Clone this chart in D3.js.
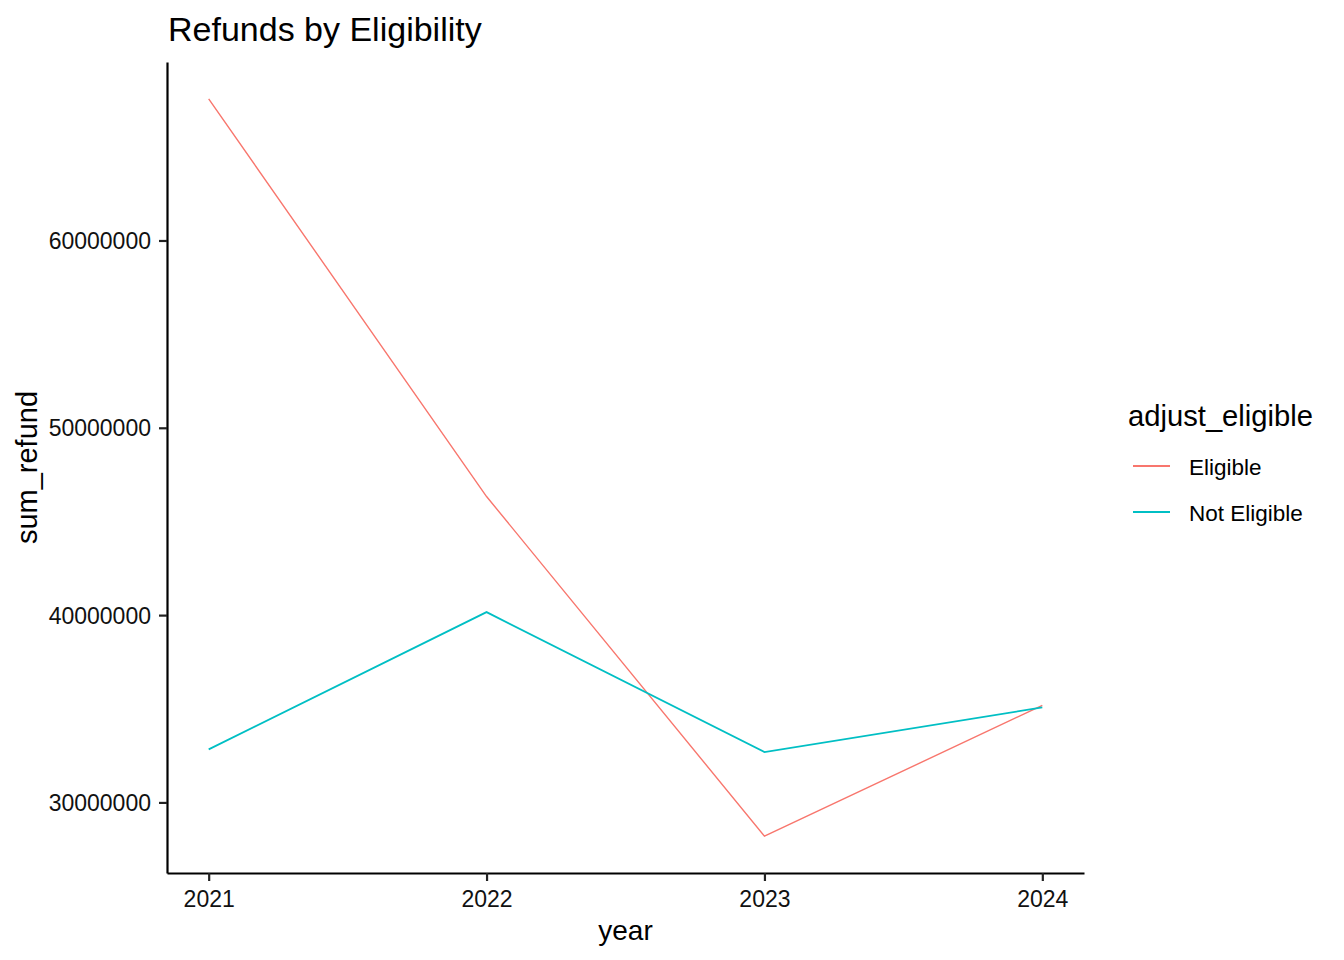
<!DOCTYPE html>
<html>
<head>
<meta charset="utf-8">
<script src="https://cdn.jsdelivr.net/npm/d3@7"></script>
<style>
  body { margin: 0; background: #fff; }
  text { font-family: "Liberation Sans", Arial, sans-serif; }
</style>
</head>
<body>
<div id="chart"></div>
<script>
// data
var years = [2021, 2022, 2023, 2024];
var eligible = [67560000, 46330000, 28200000, 35180000];
var notEligible = [32830000, 40160000, 32690000, 35070000];
var seriesNames = ["Eligible", "Not Eligible"];
var seriesColors = ["#F8766D", "#00BFC4"];
var yTicks = [30000000, 40000000, 50000000, 60000000];

var W = 1344, H = 960;
var plot = {left: 167, right: 1084, top: 62, bottom: 873};

var svg = d3.select("#chart").append("svg")
  .attr("width", W).attr("height", H);

// ggplot style 5% expansion on both scales
var xPad = (d3.max(years) - d3.min(years)) * 0.05;
var x = d3.scaleLinear()
  .domain([d3.min(years) - xPad, d3.max(years) + xPad])
  .range([plot.left, plot.right]);

var all = eligible.concat(notEligible);
var yMin = d3.min(all), yMax = d3.max(all);
var yPad = (yMax - yMin) * 0.05;
var y = d3.scaleLinear()
  .domain([yMin - yPad, yMax + yPad])
  .range([plot.bottom, plot.top]);

// axes
var xAxis = d3.axisBottom(x).tickValues(years).tickFormat(d3.format("d"))
  .tickSizeInner(8).tickSizeOuter(0).tickPadding(4);
var yAxis = d3.axisLeft(y).tickValues(yTicks).tickFormat(d3.format("d"))
  .tickSizeInner(8).tickSizeOuter(0).tickPadding(8);

var gx = svg.append("g").attr("transform", "translate(0," + plot.bottom + ")").call(xAxis);
var gy = svg.append("g").attr("transform", "translate(" + plot.left + ",0)").call(yAxis);

[gx, gy].forEach(function(g) {
  g.select(".domain").attr("stroke", "#000").attr("stroke-width", 2.2);
  g.selectAll(".tick line").attr("stroke", "#222").attr("stroke-width", 2.2);
  g.selectAll(".tick text").attr("fill", "#111")
    .style("font-size", "23px").style("font-family", "Liberation Sans, Arial, sans-serif");
});
gy.selectAll(".tick text").attr("dy", "0.35em");
gx.selectAll(".tick text").attr("dy", "0.95em");

// lines
var line = d3.line()
  .x(function(d, i) { return x(years[i]); })
  .y(function(d) { return y(d); });

var series = [eligible, notEligible];
var widths = [1.4, 1.8];
series.forEach(function(s, k) {
  svg.append("path").datum(s)
    .attr("d", line)
    .attr("fill", "none")
    .attr("stroke", seriesColors[k])
    .attr("stroke-width", widths[k]);
});

// titles
svg.append("text").attr("x", plot.left + 1).attr("y", 41)
  .style("font-size", "34px").attr("fill", "#000")
  .text("Refunds by Eligibility");

svg.append("text").attr("x", (plot.left + plot.right) / 2).attr("y", 940)
  .attr("text-anchor", "middle").style("font-size", "28px").attr("fill", "#000")
  .text("year");

svg.append("text")
  .attr("transform", "translate(37," + ((plot.top + plot.bottom) / 2) + ") rotate(-90)")
  .attr("text-anchor", "middle").style("font-size", "29px").attr("fill", "#000")
  .text("sum_refund");

// legend
var legend = svg.append("g");
legend.append("text").attr("x", 1128).attr("y", 426)
  .style("font-size", "29.2px").attr("fill", "#000")
  .text("adjust_eligible");

var legendY = [466, 512];
seriesNames.forEach(function(name, k) {
  legend.append("line")
    .attr("x1", 1133).attr("x2", 1170)
    .attr("y1", legendY[k]).attr("y2", legendY[k])
    .attr("stroke", seriesColors[k]).attr("stroke-width", 1.8);
  legend.append("text").attr("x", 1189).attr("y", legendY[k] + 9)
    .style("font-size", "22.5px").attr("fill", "#000")
    .text(name);
});
</script>
</body>
</html>
